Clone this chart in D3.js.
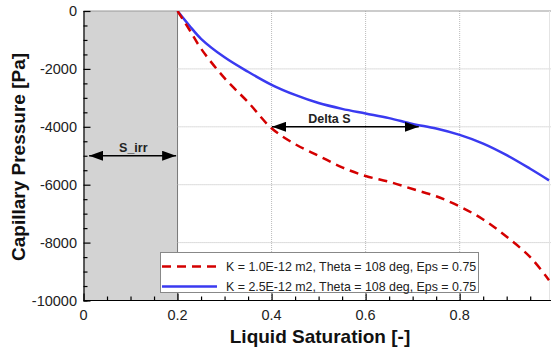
<!DOCTYPE html>
<html>
<head>
<meta charset="utf-8">
<script src="https://cdn.jsdelivr.net/npm/d3@7"></script>
<style>
  body { margin: 0; background: #fff; }
  text { font-family: "Liberation Sans", Arial, sans-serif; }
</style>
</head>
<body>
<svg width="551" height="348"></svg>
<script>
// liquid saturation samples
var saturation = [0.2, 0.225, 0.25, 0.3, 0.35, 0.4, 0.45, 0.5, 0.55, 0.6, 0.65, 0.7, 0.75, 0.8, 0.85, 0.9, 0.95, 0.99];
// K = 1.0E-12 m2 (red dashed)
var pcLowK = [0, -640, -1300, -2320, -3150, -4050, -4600, -5000, -5400, -5700, -5900, -6150, -6400, -6750, -7200, -7800, -8500, -9300];
// K = 2.5E-12 m2 (blue)
var pcHighK = [0, -500, -960, -1600, -2100, -2550, -2900, -3180, -3380, -3540, -3700, -3900, -4060, -4280, -4580, -4980, -5450, -5850];

var xTicks = [0, 0.2, 0.4, 0.6, 0.8];
var yTicks = [0, -2000, -4000, -6000, -8000, -10000];
var legendLabels = ["K = 1.0E-12 m2, Theta = 108 deg, Eps = 0.75",
                    "K = 2.5E-12 m2, Theta = 108 deg, Eps = 0.75"];

var svg = d3.select("svg");

var x = d3.scaleLinear().domain([0, 0.99]).range([83.5, 549]);
var y = d3.scaleLinear().domain([-10000, 0]).range([300.5, 11]);

var defs = svg.append("defs");
defs.append("clipPath").attr("id", "plot-clip")
    .append("rect")
    .attr("x", x(0)).attr("y", y(0))
    .attr("width", 551 - x(0)).attr("height", y(-10000) - y(0));

// arrow heads
defs.append("marker").attr("id", "arrow")
    .attr("viewBox", "0 0 14 10")
    .attr("refX", 14).attr("refY", 5)
    .attr("markerWidth", 14).attr("markerHeight", 10)
    .attr("markerUnits", "userSpaceOnUse")
    .attr("orient", "auto-start-reverse")
  .append("path")
    .attr("d", "M0,0 L14,5 L0,10 Z")
    .attr("fill", "#000");

// irreducible saturation region
svg.append("rect")
    .attr("x", x(0)).attr("y", y(0))
    .attr("width", x(0.2) - x(0)).attr("height", y(-10000) - y(0))
    .attr("fill", "#d3d3d3");
svg.append("line")
    .attr("x1", x(0.2)).attr("x2", x(0.2))
    .attr("y1", y(0)).attr("y2", y(-10000))
    .attr("stroke", "#777").attr("stroke-width", 1);

// grid
var grid = svg.append("g").attr("class", "grid");
grid.selectAll(".gx").data(xTicks.filter(function (d) { return d > 0.2; }))
  .enter().append("line")
    .attr("x1", function (d) { return x(d); }).attr("x2", function (d) { return x(d); })
    .attr("y1", y(0)).attr("y2", y(-10000))
    .attr("stroke", "#bbb").attr("stroke-dasharray", "1,1");
grid.selectAll(".gy").data(yTicks.slice(1, -1))
  .enter().append("line")
    .attr("x1", x(0.2)).attr("x2", 551)
    .attr("y1", function (d) { return y(d); }).attr("y2", function (d) { return y(d); })
    .attr("stroke", "#bbb").attr("stroke-dasharray", "1,1");

// top frame
svg.append("line")
    .attr("x1", x(0)).attr("x2", 551).attr("y1", y(0)).attr("y2", y(0))
    .attr("stroke", "#999");
svg.append("line")
    .attr("x1", 549.5).attr("x2", 549.5).attr("y1", y(0)).attr("y2", y(-10000))
    .attr("stroke", "#e4e4e4");

// curves
var line = d3.line()
    .x(function (d) { return x(d[0]); })
    .y(function (d) { return y(d[1]); })
    .curve(d3.curveCatmullRom.alpha(0.5));

var curves = svg.append("g").attr("clip-path", "url(#plot-clip)");
curves.append("path")
    .datum(d3.zip(saturation, pcHighK))
    .attr("d", line)
    .attr("fill", "none").attr("stroke", "#3a3af0").attr("stroke-width", 2.5);
curves.append("path")
    .datum(d3.zip(saturation, pcLowK))
    .attr("d", line)
    .attr("fill", "none").attr("stroke", "#d40000").attr("stroke-width", 2.5)
    .attr("stroke-dasharray", "9,6");

// axes (ticks inward)
var xAxis = svg.append("g").attr("transform", "translate(0," + y(-10000) + ")");
xAxis.call(d3.axisTop(x).tickValues(d3.range(0, 1.0, 0.05)).tickSize(4).tickFormat(""));
xAxis.call(function (g) {
    g.selectAll(".tick").filter(function (d) { return xTicks.some(function (t) { return Math.abs(t - d) < 1e-6; }); })
        .select("line").attr("y2", -7);
});
xAxis.select(".domain").attr("d", "M" + x(0) + ",0H551");
xAxis.selectAll("line, path").attr("stroke", "#000").attr("stroke-width", 1.2);

var xLabels = svg.append("g");
xLabels.selectAll("text").data(xTicks).enter().append("text")
    .attr("x", function (d) { return x(d); })
    .attr("y", 320)
    .attr("text-anchor", "middle")
    .attr("font-size", "14.5px")
    .attr("fill", "#222")
    .text(function (d) { return d === 0 ? "0" : d3.format(".1f")(d); });

var yAxis = svg.append("g").attr("transform", "translate(" + x(0) + ",0)");
yAxis.call(d3.axisRight(y).tickValues(d3.range(-10000, 1, 500)).tickSize(4).tickFormat(""));
yAxis.selectAll(".tick").filter(function (d) { return d % 2000 === 0; })
    .select("line").attr("x2", 7);
yAxis.selectAll("line, path").attr("stroke", "#000").attr("stroke-width", 1.2);

svg.append("g").selectAll("text").data(yTicks).enter().append("text")
    .attr("x", 77)
    .attr("y", function (d) { return y(d); })
    .attr("dy", "0.36em")
    .attr("text-anchor", "end")
    .attr("font-size", "14.5px")
    .attr("fill", "#222")
    .text(function (d) { return d; });

// axis titles
svg.append("text")
    .attr("x", 320).attr("y", 343)
    .attr("text-anchor", "middle")
    .attr("font-size", "19px").attr("font-weight", "bold")
    .attr("fill", "#111")
    .text("Liquid Saturation [-]");
svg.append("text")
    .attr("transform", "translate(25,157) rotate(-90)")
    .attr("text-anchor", "middle")
    .attr("font-size", "19px").attr("font-weight", "bold")
    .attr("fill", "#111")
    .text("Capillary Pressure [Pa]");

// annotations
function doubleArrow(x1, x2, yv, label, labelX) {
    svg.append("line")
        .attr("x1", x(x1)).attr("x2", x(x2))
        .attr("y1", y(yv)).attr("y2", y(yv))
        .attr("stroke", "#000").attr("stroke-width", 1.5)
        .attr("marker-start", "url(#arrow)")
        .attr("marker-end", "url(#arrow)");
    svg.append("text")
        .attr("x", x(labelX)).attr("y", y(yv) - 4)
        .attr("text-anchor", "middle")
        .attr("font-size", "12.5px").attr("font-weight", "bold")
        .attr("fill", "#222")
        .text(label);
}
doubleArrow(0.012, 0.197, -5000, "S_irr", 0.106);
doubleArrow(0.401, 0.713, -4000, "Delta S", 0.523);

// legend
var legend = svg.append("g");
legend.append("rect")
    .attr("x", 160.5).attr("y", 252.5)
    .attr("width", 318).attr("height", 40)
    .attr("fill", "#fff").attr("stroke", "#888");
var legendItems = [
    { label: legendLabels[0], color: "#d40000", dash: "9,6", yPos: 266.5 },
    { label: legendLabels[1], color: "#3a3af0", dash: null, yPos: 286.5 }
];
legendItems.forEach(function (d) {
    legend.append("line")
        .attr("x1", 162).attr("x2", 217)
        .attr("y1", d.yPos).attr("y2", d.yPos)
        .attr("stroke", d.color).attr("stroke-width", 2.5)
        .attr("stroke-dasharray", d.dash);
    legend.append("text")
        .attr("x", 226).attr("y", d.yPos)
        .attr("dy", "0.36em")
        .attr("font-size", "12.4px")
        .attr("fill", "#222")
        .text(d.label);
});
</script>
</body>
</html>
